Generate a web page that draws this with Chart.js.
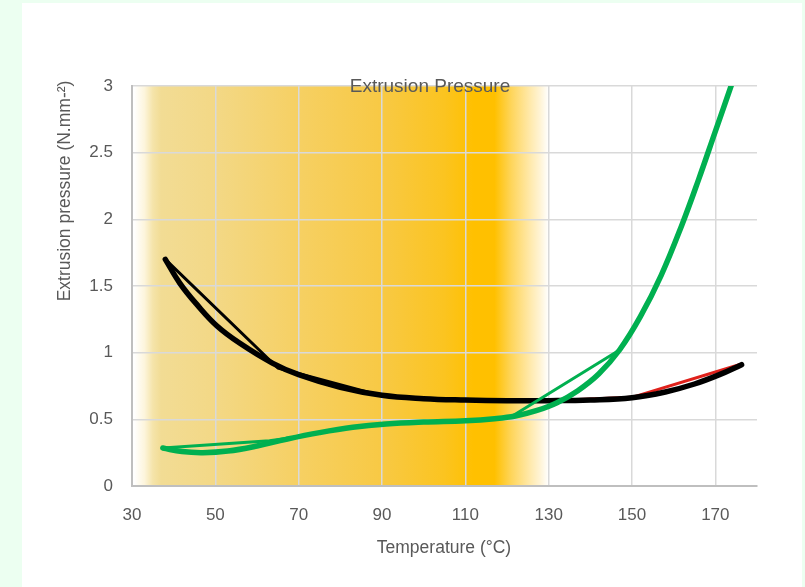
<!DOCTYPE html>
<html>
<head>
<meta charset="utf-8">
<script src="https://cdn.jsdelivr.net/npm/chart.js@4.4.1/dist/chart.umd.min.js"></script>
<style>
  html, body { margin: 0; padding: 0; background: #ecfff1; width: 805px; height: 587px; overflow: hidden; }
  #card { position: absolute; left: 22px; top: 3px; width: 780px; height: 584px; background: #ffffff; }
  canvas { display: block; }
</style>
</head>
<body>
<div id="card"><canvas id="c" width="780" height="584"></canvas></div>
<script>
// ---- data (temperature °C, pressure N.mm-2) ----
const xTickValues = [30, 50, 70, 90, 110, 130, 150, 170];
const yTickValues = [0, 0.5, 1, 1.5, 2, 2.5, 3];

const blackThickT = [38, 41.5, 45.6, 50.4, 55.9, 63.8, 70, 80, 90, 100, 110, 120, 130, 140, 150, 158, 165, 171, 176.3];
const blackThickP = [1.70, 1.52, 1.36, 1.20, 1.07, 0.92, 0.835, 0.74, 0.68, 0.655, 0.645, 0.64, 0.64, 0.645, 0.662, 0.705, 0.765, 0.835, 0.91];

const blackThinT = [38, 65, 90, 100, 130];
const blackThinP = [1.70, 0.885, 0.675, 0.655, 0.64];

const redT = [130, 150, 176.3];
const redP = [0.64, 0.665, 0.915];

const greenThickT = [37.4, 42, 47, 53, 60, 67, 75, 83, 91, 100, 110, 117, 122, 127, 132, 137, 142, 147, 152, 157, 162, 166, 170, 174, 177];
const greenThickP = [0.285, 0.258, 0.25, 0.262, 0.30, 0.35, 0.40, 0.44, 0.465, 0.48, 0.49, 0.505, 0.525, 0.565, 0.625, 0.715, 0.84, 1.02, 1.27, 1.58, 1.96, 2.30, 2.66, 3.02, 3.30];

const greenThinT = [37.4, 63, 70, 80, 90, 100, 110, 117, 121, 147.5];
const greenThinP = [0.285, 0.34, 0.37, 0.425, 0.465, 0.48, 0.49, 0.505, 0.52, 1.03];

// processing-window gradient band (temperature stops -> colour)
const bandT =      [30.5,      33,        35,        37,        50,        70,        90,        105,       112,       117,       121,       125,       128,       130];
const bandColor =  ['#ffffff', '#fdf5dc', '#f5e4aa', '#f2dc94', '#f3d886', '#f6d063', '#f8c944', '#fbc420', '#ffc000', '#ffc000', '#fed55a', '#ffe7a2', '#fff4d6', '#ffffff'];

const toXY = (T, P) => T.map((t, i) => ({ x: t, y: P[i] }));

const TEXT = '#595959';
const FONT = '"Liberation Sans", Arial, sans-serif';

const bandPlugin = {
  id: 'band',
  beforeDraw(chart) {
    const { ctx, chartArea, scales } = chart;
    const x0 = scales.x.getPixelForValue(bandT[0]);
    const x1 = scales.x.getPixelForValue(bandT[bandT.length - 1]);
    const g = ctx.createLinearGradient(x0, 0, x1, 0);
    bandT.forEach((t, i) => {
      g.addColorStop((scales.x.getPixelForValue(t) - x0) / (x1 - x0), bandColor[i]);
    });
    ctx.save();
    ctx.fillStyle = g;
    ctx.fillRect(x0, chartArea.top, x1 - x0, chartArea.bottom - chartArea.top);
    ctx.restore();
  }
};

const textPlugin = {
  id: 'texts',
  afterDraw(chart) {
    const ctx = chart.ctx;
    ctx.save();
    ctx.fillStyle = TEXT;
    ctx.textAlign = 'center';
    ctx.textBaseline = 'middle';
    ctx.font = '19px ' + FONT;
    ctx.fillText('Extrusion Pressure', 408, 84);
    ctx.font = '17.5px ' + FONT;
    ctx.fillText('Temperature (°C)', 422, 545);
    ctx.translate(43, 188);
    ctx.rotate(-Math.PI / 2);
    ctx.fillText('Extrusion pressure (N.mm-²)', 0, 0);
    ctx.restore();
  }
};

const common = { showLine: true, pointRadius: 0, pointHoverRadius: 0, borderCapStyle: 'round', borderJoinStyle: 'round', fill: false };

new Chart(document.getElementById('c'), {
  type: 'scatter',
  data: {
    datasets: [
      { ...common, data: toXY(greenThinT, greenThinP), borderColor: '#00b050', borderWidth: 3, tension: 0, order: 1 },
      { ...common, data: toXY(greenThickT, greenThickP), borderColor: '#00b050', borderWidth: 5.5, tension: 0.4, order: 2 },
      { ...common, data: toXY(blackThinT, blackThinP), borderColor: '#000000', borderWidth: 3, tension: 0, order: 3 },
      { ...common, data: toXY(blackThickT, blackThickP), borderColor: '#000000', borderWidth: 5.5, tension: 0.4, order: 4 },
      { ...common, data: toXY(redT, redP), borderColor: '#e0211b', borderWidth: 3, tension: 0, order: 5 }
    ]
  },
  options: {
    responsive: false,
    animation: false,
    events: [],
    layout: { padding: { top: 83, right: 45, left: 0, bottom: 0 } },
    plugins: { legend: { display: false }, tooltip: { enabled: false }, title: { display: false } },
    scales: {
      x: {
        type: 'linear', min: 30, max: 180,
        afterBuildTicks: (s) => { s.ticks = xTickValues.map(v => ({ value: v })).concat([{ value: 180 }]); },
        afterFit: (s) => { s.height = 101; },
        ticks: { color: TEXT, font: { family: FONT, size: 17 }, padding: 19, maxRotation: 0, autoSkip: false,
                 callback: (v) => (xTickValues.includes(v) ? String(v) : '') },
        grid: { drawTicks: false, lineWidth: 1.5, color: (c) => (c.tick && c.tick.value === 180 ? 'rgba(0,0,0,0)' : '#d9d9d9') },
        border: { display: true, color: '#bfbfbf', width: 2 }
      },
      y: {
        type: 'linear', min: 0, max: 3,
        afterBuildTicks: (s) => { s.ticks = yTickValues.map(v => ({ value: v })); },
        afterFit: (s) => { s.width = 110; },
        ticks: { color: TEXT, font: { family: FONT, size: 17 }, padding: 19, autoSkip: false,
                 callback: (v) => String(v) },
        grid: { drawTicks: false, lineWidth: 1.5, color: '#d9d9d9' },
        border: { display: true, color: '#bfbfbf', width: 2 }
      }
    }
  },
  plugins: [bandPlugin, textPlugin]
});
</script>
</body>
</html>
